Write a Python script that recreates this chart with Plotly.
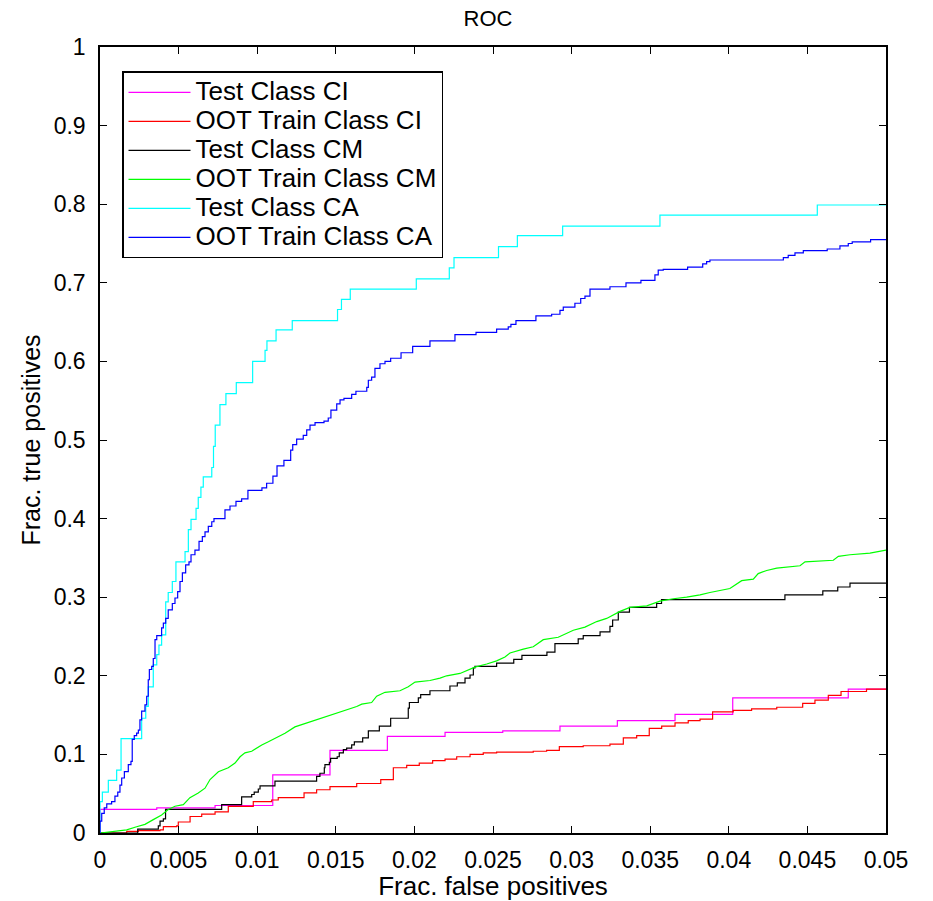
import plotly.graph_objects as go

# ---------------- data ----------------
test_ci_x = [0, 0, 0.00361, 0.00732, 0.01099, 0.01463, 0.01828, 0.02195, 0.02562, 0.02926,
             0.03291, 0.03658, 0.04025, 0.04760, 0.05]
test_ci_y = [0, 0.030, 0.032, 0.035, 0.074, 0.105, 0.123, 0.128, 0.130, 0.136,
             0.143, 0.151, 0.172, 0.183, 0.184]

oot_ci_x = [0, 0.00170, 0.00244, 0.00382, 0.00403, 0.00488, 0.00498, 0.00573, 0.00647, 0.00732,
            0.00816, 0.00975, 0.01092, 0.01134, 0.01298, 0.01378, 0.01463, 0.01633, 0.01786, 0.01866,
            0.01951, 0.02031, 0.02116, 0.02195, 0.02269, 0.02354, 0.02438, 0.02523, 0.02756, 0.02841,
            0.02922, 0.03074, 0.03244, 0.03329, 0.03414, 0.03494, 0.03573, 0.03658, 0.03742, 0.03817,
            0.03897, 0.04028, 0.04145, 0.04305, 0.04470, 0.04548, 0.04633, 0.04714, 0.04876, 0.05]
oot_ci_y = [0, 0.002, 0.003, 0.004, 0.008, 0.009, 0.014, 0.021, 0.024, 0.027,
            0.034, 0.040, 0.042, 0.045, 0.051, 0.055, 0.059, 0.063, 0.068, 0.083,
            0.086, 0.089, 0.092, 0.094, 0.097, 0.100, 0.102, 0.103, 0.104, 0.105,
            0.110, 0.111, 0.113, 0.121, 0.124, 0.133, 0.136, 0.140, 0.143, 0.145,
            0.154, 0.156, 0.158, 0.160, 0.165, 0.169, 0.175, 0.180, 0.183, 0.184]

test_cm_x = [0, 0.00240, 0.00371, 0.00382, 0.00403, 0.00417, 0.00774, 0.00901, 0.00965, 0.00981,
             0.01007, 0.01018, 0.01113, 0.01378, 0.01399, 0.01427, 0.01431, 0.01459, 0.01467, 0.01509,
             0.01522, 0.01548, 0.01569, 0.01601, 0.01618, 0.01671, 0.01707, 0.01777, 0.01849, 0.01961,
             0.01968, 0.02025, 0.02040, 0.02099, 0.02226, 0.02273, 0.02322, 0.02354, 0.02375, 0.02385,
             0.02523, 0.02632, 0.02684, 0.02843, 0.02894, 0.03042, 0.03074, 0.03181, 0.03244, 0.03261,
             0.03297, 0.03368, 0.03541, 0.03572, 0.04357, 0.04598, 0.04693, 0.04771, 0.05]
test_cm_y = [0, 0.005, 0.009, 0.015, 0.018, 0.030, 0.036, 0.046, 0.049, 0.052,
             0.056, 0.060, 0.066, 0.072, 0.076, 0.083, 0.087, 0.090, 0.095, 0.097,
             0.102, 0.106, 0.108, 0.112, 0.116, 0.121, 0.130, 0.136, 0.146, 0.159,
             0.166, 0.172, 0.176, 0.181, 0.187, 0.191, 0.197, 0.201, 0.210, 0.212,
             0.216, 0.221, 0.226, 0.230, 0.241, 0.247, 0.251, 0.256, 0.263, 0.271,
             0.281, 0.287, 0.292, 0.297, 0.303, 0.308, 0.313, 0.318, 0.318]

oot_cm_x = [0, 0.00095, 0.00170, 0.00233, 0.00286, 0.00339, 0.00392, 0.00434, 0.00477, 0.00530,
            0.00572, 0.00625, 0.00668, 0.00700, 0.00732, 0.00753, 0.00816, 0.00859, 0.00891, 0.00922,
            0.00965, 0.01029, 0.01071, 0.01124, 0.01177, 0.01240, 0.01315, 0.01378, 0.01442, 0.01506,
            0.01558, 0.01633, 0.01665, 0.01728, 0.01760, 0.01813, 0.01908, 0.01961, 0.02004, 0.02099,
            0.02163, 0.02205, 0.02290, 0.02343, 0.02385, 0.02460, 0.02523, 0.02576, 0.02608, 0.02693,
            0.02756, 0.02820, 0.02915, 0.03011, 0.03085, 0.03160, 0.03223, 0.03308, 0.03371, 0.03478,
            0.03562, 0.03647, 0.03732, 0.03817, 0.03880, 0.04007, 0.04082, 0.04156, 0.04187, 0.04241,
            0.04305, 0.04453, 0.04485, 0.04665, 0.04697, 0.04771, 0.04898, 0.05]
oot_cm_y = [0, 0.002, 0.004, 0.008, 0.011, 0.017, 0.023, 0.030, 0.034, 0.036,
            0.045, 0.051, 0.057, 0.068, 0.074, 0.078, 0.083, 0.089, 0.097, 0.102,
            0.104, 0.112, 0.116, 0.121, 0.127, 0.135, 0.140, 0.144, 0.148, 0.152,
            0.156, 0.161, 0.164, 0.166, 0.174, 0.179, 0.181, 0.186, 0.192, 0.194,
            0.197, 0.200, 0.203, 0.207, 0.211, 0.215, 0.219, 0.224, 0.229, 0.234,
            0.237, 0.246, 0.249, 0.258, 0.262, 0.269, 0.273, 0.282, 0.287, 0.289,
            0.295, 0.298, 0.300, 0.303, 0.306, 0.311, 0.321, 0.323, 0.330, 0.334,
            0.337, 0.340, 0.345, 0.347, 0.352, 0.354, 0.356, 0.360]

test_ca_x = [0, 0, 0.00015, 0.00053, 0.00106, 0.00134, 0.00265, 0.00291, 0.00307, 0.00339,
             0.00361, 0.00375, 0.00392, 0.00418, 0.00434, 0.00460, 0.00483, 0.00541, 0.00562, 0.00579,
             0.00611, 0.00625, 0.00642, 0.00657, 0.00711, 0.00722, 0.00733, 0.00763, 0.00801, 0.00867,
             0.00971, 0.01050, 0.01062, 0.01120, 0.01223, 0.01511, 0.01536, 0.01592, 0.02012, 0.02222,
             0.02252, 0.02535, 0.02655, 0.02943, 0.03562, 0.04563, 0.05]
test_ca_y = [0, 0.040, 0.052, 0.067, 0.080, 0.120, 0.146, 0.161, 0.186, 0.214,
             0.227, 0.239, 0.252, 0.294, 0.306, 0.320, 0.345, 0.358, 0.386, 0.399,
             0.413, 0.427, 0.440, 0.453, 0.465, 0.492, 0.519, 0.545, 0.559, 0.573,
             0.600, 0.614, 0.626, 0.640, 0.652, 0.666, 0.679, 0.692, 0.705, 0.719,
             0.732, 0.746, 0.760, 0.772, 0.786, 0.799, 0.799]

oot_ca_x = [0, 0, 0.00011, 0.00027, 0.00043, 0.00074, 0.00095, 0.00113, 0.00127, 0.00138,
            0.00155, 0.00180, 0.00197, 0.00205, 0.00218, 0.00233, 0.00244, 0.00254, 0.00265, 0.00286,
            0.00297, 0.00307, 0.00314, 0.00329, 0.00339, 0.00350, 0.00361, 0.00392, 0.00403, 0.00418,
            0.00434, 0.00460, 0.00477, 0.00494, 0.00509, 0.00524, 0.00545, 0.00566, 0.00579, 0.00604,
            0.00630, 0.00651, 0.00668, 0.00689, 0.00711, 0.00725, 0.00795, 0.00827, 0.00865, 0.00901,
            0.00941, 0.01030, 0.01060, 0.01100, 0.01126, 0.01170, 0.01213, 0.01226, 0.01251, 0.01293,
            0.01315, 0.01336, 0.01368, 0.01425, 0.01452, 0.01469, 0.01506, 0.01527, 0.01552, 0.01601,
            0.01628, 0.01697, 0.01707, 0.01728, 0.01749, 0.01781, 0.01813, 0.01849, 0.01915, 0.01989,
            0.02099, 0.02258, 0.02392, 0.02523, 0.02597, 0.02614, 0.02646, 0.02773, 0.02873, 0.02926,
            0.02947, 0.03021, 0.03058, 0.03085, 0.03117, 0.03244, 0.03346, 0.03441, 0.03530, 0.03551,
            0.03583, 0.03738, 0.03834, 0.03859, 0.03880, 0.04347, 0.04378, 0.04421, 0.04474, 0.04626,
            0.04707, 0.04760, 0.04785, 0.04902, 0.05]
oot_ca_y = [0, 0.015, 0.025, 0.032, 0.037, 0.040, 0.047, 0.052, 0.061, 0.070,
            0.078, 0.087, 0.091, 0.119, 0.124, 0.127, 0.131, 0.144, 0.155, 0.163,
            0.174, 0.195, 0.208, 0.212, 0.222, 0.246, 0.251, 0.261, 0.267, 0.273,
            0.284, 0.292, 0.299, 0.307, 0.320, 0.331, 0.341, 0.345, 0.354, 0.360,
            0.371, 0.377, 0.383, 0.390, 0.396, 0.400, 0.411, 0.416, 0.422, 0.425,
            0.436, 0.439, 0.445, 0.454, 0.467, 0.474, 0.487, 0.494, 0.501, 0.506,
            0.513, 0.519, 0.522, 0.524, 0.528, 0.538, 0.546, 0.551, 0.553, 0.558,
            0.562, 0.567, 0.576, 0.580, 0.591, 0.597, 0.600, 0.604, 0.611, 0.619,
            0.626, 0.634, 0.637, 0.641, 0.644, 0.647, 0.652, 0.658, 0.660, 0.665,
            0.669, 0.674, 0.680, 0.683, 0.692, 0.695, 0.700, 0.703, 0.710, 0.716,
            0.717, 0.720, 0.724, 0.727, 0.729, 0.732, 0.735, 0.738, 0.741, 0.743,
            0.747, 0.750, 0.752, 0.755, 0.755]

series_names = ["Test Class CI", "OOT Train Class CI", "Test Class CM",
                "OOT Train Class CM", "Test Class CA", "OOT Train Class CA"]
series_colors = ["#FF00FF", "#FF0000", "#000000", "#00FF00", "#00FFFF", "#0000FF"]
series_shapes = ["hv", "hv", "hv", "linear", "hv", "hv"]
series_x = [test_ci_x, oot_ci_x, test_cm_x, oot_cm_x, test_ca_x, oot_ca_x]
series_y = [test_ci_y, oot_ci_y, test_cm_y, oot_cm_y, test_ca_y, oot_ca_y]

x_tickvals = [0, 0.005, 0.01, 0.015, 0.02, 0.025, 0.03, 0.035, 0.04, 0.045, 0.05]
x_ticktext = ["0", "0.005", "0.01", "0.015", "0.02", "0.025", "0.03", "0.035", "0.04", "0.045", "0.05"]
y_tickvals = [0, 0.1, 0.2, 0.3, 0.4, 0.5, 0.6, 0.7, 0.8, 0.9, 1]
y_ticktext = ["0", "0.1", "0.2", "0.3", "0.4", "0.5", "0.6", "0.7", "0.8", "0.9", "1"]

FONT = "Liberation Sans, Arial, Helvetica, sans-serif"

fig = go.Figure()
for name, col, shp, xs, ys in zip(series_names, series_colors, series_shapes, series_x, series_y):
    fig.add_trace(go.Scatter(x=xs, y=ys, mode="lines",
                             name='<span style="font-size:26px">' + name + '</span>',
                             line=dict(color=col, width=1.2, shape=shp)))

axis_common = dict(showline=True, linecolor="black", linewidth=1.5, mirror="ticks",
                   ticks="inside", ticklen=7, tickwidth=1, tickcolor="black",
                   showgrid=False, zeroline=False, tickfont=dict(family=FONT, size=23, color="black"))

fig.update_xaxes(range=[0, 0.05], tickvals=x_tickvals, ticktext=x_ticktext,
                 title=dict(text="Frac. false positives", font=dict(family=FONT, size=26, color="black"), standoff=1),
                 ticklabelstandoff=6, **axis_common)
fig.update_yaxes(range=[0, 1], tickvals=y_tickvals, ticktext=y_ticktext,
                 title=dict(text="Frac. true positives", font=dict(family=FONT, size=25, color="black"), standoff=6),
                 ticklabelstandoff=8, **axis_common)

fig.update_layout(
    width=933, height=901,
    margin=dict(l=100, r=47, t=47, b=68, autoexpand=False),
    paper_bgcolor="white", plot_bgcolor="white",
    title=dict(text="ROC", x=0.523, xanchor="center", y=0.98, yanchor="middle",
               font=dict(family=FONT, size=22, color="black")),
    font=dict(family=FONT, color="black"),
    legend=dict(x=0.028, y=0.969, xanchor="left", yanchor="top",
                bgcolor="white", bordercolor="black", borderwidth=1.5,
                font=dict(family=FONT, size=20, color="black"),
                itemwidth=62),
    showlegend=True,
)

fig.write_html("out.html")
